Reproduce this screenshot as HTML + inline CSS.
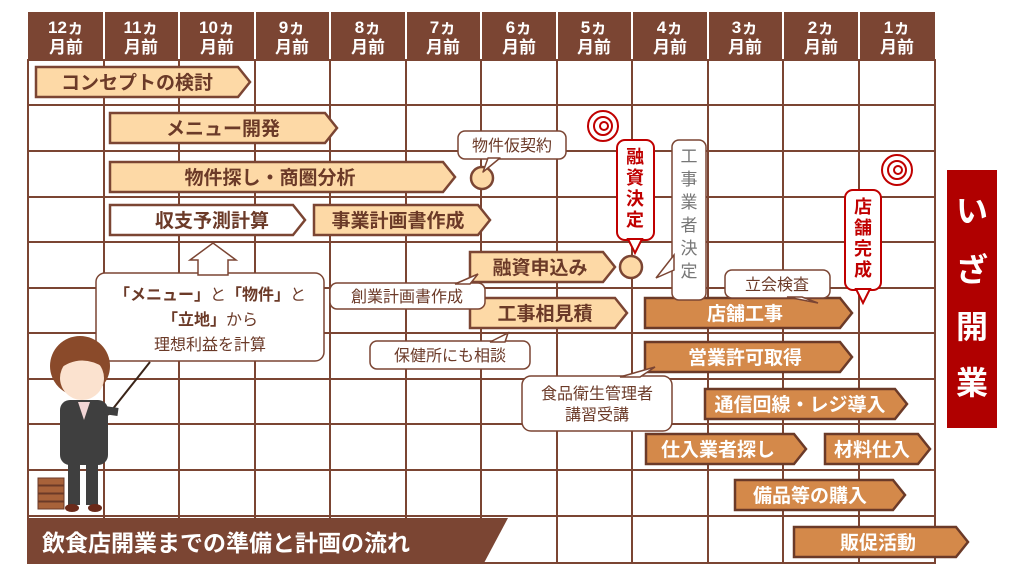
<!DOCTYPE html>
<html><head><meta charset="utf-8"><style>
html,body{margin:0;padding:0;background:#fff;}
svg{display:block}
text{font-family:"Liberation Sans","Noto Sans CJK JP",sans-serif;}
</style></head><body>
<svg width="1024" height="576" viewBox="0 0 1024 576" xmlns="http://www.w3.org/2000/svg">
<rect width="1024" height="576" fill="#fff"/>
<rect x="28" y="12" width="907" height="48" fill="#7b4533"/>
<g stroke="#fff" stroke-width="2">
<line x1="104" y1="12" x2="104" y2="60"/><line x1="179" y1="12" x2="179" y2="60"/><line x1="255" y1="12" x2="255" y2="60"/><line x1="330" y1="12" x2="330" y2="60"/><line x1="406" y1="12" x2="406" y2="60"/><line x1="481" y1="12" x2="481" y2="60"/><line x1="557" y1="12" x2="557" y2="60"/><line x1="632" y1="12" x2="632" y2="60"/><line x1="708" y1="12" x2="708" y2="60"/><line x1="783" y1="12" x2="783" y2="60"/><line x1="859" y1="12" x2="859" y2="60"/>
</g>
<g fill="#fff" font-weight="bold" font-size="17" text-anchor="middle">
<text x="66" y="33">12ヵ</text><text x="66" y="53">月前</text>
<text x="141" y="33">11ヵ</text><text x="141" y="53">月前</text>
<text x="217" y="33">10ヵ</text><text x="217" y="53">月前</text>
<text x="292" y="33">9ヵ</text><text x="292" y="53">月前</text>
<text x="368" y="33">8ヵ</text><text x="368" y="53">月前</text>
<text x="443" y="33">7ヵ</text><text x="443" y="53">月前</text>
<text x="519" y="33">6ヵ</text><text x="519" y="53">月前</text>
<text x="594" y="33">5ヵ</text><text x="594" y="53">月前</text>
<text x="670" y="33">4ヵ</text><text x="670" y="53">月前</text>
<text x="745" y="33">3ヵ</text><text x="745" y="53">月前</text>
<text x="821" y="33">2ヵ</text><text x="821" y="53">月前</text>
<text x="897" y="33">1ヵ</text><text x="897" y="53">月前</text>
</g>
<g stroke="#7b4533" stroke-width="2" fill="none">
<rect x="28" y="60" width="907" height="503"/>
<line x1="104" y1="60" x2="104" y2="563"/><line x1="179" y1="60" x2="179" y2="563"/><line x1="255" y1="60" x2="255" y2="563"/><line x1="330" y1="60" x2="330" y2="563"/><line x1="406" y1="60" x2="406" y2="563"/><line x1="481" y1="60" x2="481" y2="563"/><line x1="557" y1="60" x2="557" y2="563"/><line x1="632" y1="60" x2="632" y2="563"/><line x1="708" y1="60" x2="708" y2="563"/><line x1="783" y1="60" x2="783" y2="563"/><line x1="859" y1="60" x2="859" y2="563"/>
<line x1="28" y1="105" x2="935" y2="105"/><line x1="28" y1="151" x2="935" y2="151"/><line x1="28" y1="197" x2="935" y2="197"/><line x1="28" y1="242" x2="935" y2="242"/><line x1="28" y1="288" x2="935" y2="288"/><line x1="28" y1="333" x2="935" y2="333"/><line x1="28" y1="379" x2="935" y2="379"/><line x1="28" y1="424" x2="935" y2="424"/><line x1="28" y1="470" x2="935" y2="470"/><line x1="28" y1="516" x2="935" y2="516"/>
</g>
<polygon points="28,518 508,518 484,563 28,563" fill="#7b4533"/>
<text x="42" y="551" fill="#fff" font-size="23" font-weight="bold">飲食店開業までの準備と計画の流れ</text>
<g stroke="#7b4533" stroke-width="2.5" fill="#fdd9a6">
<polygon points="36,67 238,67 250,82 238,97 36,97"/>
<polygon points="110,113 325,113 337,128 325,143 110,143"/>
<polygon points="110,162 443,162 455,177 443,192 110,192"/>
<polygon points="110,205 293,205 305,220 293,235 110,235" fill="#fff"/>
<polygon points="314,205 478,205 490,220 478,235 314,235"/>
<polygon points="470,252 603,252 615,267 603,282 470,282"/>
<polygon points="470,298 615,298 627,313 615,328 470,328"/>
<circle cx="482" cy="178" r="11"/>
<circle cx="631" cy="267" r="11"/>
</g>
<g fill="#6b3a28" font-size="19" font-weight="bold" text-anchor="middle">
<text x="137" y="89">コンセプトの検討</text>
<text x="223" y="135">メニュー開発</text>
<text x="270" y="184">物件探し・商圏分析</text>
<text x="212" y="227">収支予測計算</text>
<text x="398" y="227">事業計画書作成</text>
<text x="540" y="274">融資申込み</text>
<text x="545" y="320">工事相見積</text>
</g>
<g stroke="#6b3a28" stroke-width="2.5" fill="#d4894a">
<polygon points="645,298 840,298 852,313 840,328 645,328"/>
<polygon points="645,342 840,342 852,357 840,372 645,372"/>
<polygon points="705,389 895,389 907,404 895,419 705,419"/>
<polygon points="646,434 794,434 806,449 794,464 646,464"/>
<polygon points="825,434 918,434 930,449 918,464 825,464"/>
<polygon points="735,480 893,480 905,495 893,510 735,510"/>
<polygon points="794,527 956,527 968,542 956,557 794,557"/>
</g>
<g fill="#fff" font-size="19" font-weight="bold" text-anchor="middle">
<text x="745" y="320">店舗工事</text>
<text x="745" y="364">営業許可取得</text>
<text x="800" y="411">通信回線・レジ導入</text>
<text x="718" y="456">仕入業者探し</text>
<text x="872" y="456">材料仕入</text>
<text x="810" y="502">備品等の購入</text>
<text x="878" y="549">販促活動</text>
</g>
<g stroke="#7b4533" stroke-width="1.5" fill="#fff">
<rect x="458" y="131" width="108" height="28" rx="7"/>
<polygon points="488,158 500,158 483,172" stroke-linejoin="round"/>
<rect x="330" y="283" width="155" height="26" rx="7"/>
<polygon points="455,284 470,284 478,274"/>
<rect x="370" y="341" width="160" height="28" rx="7"/>
<polygon points="490,342 505,342 508,333"/>
<rect x="522" y="376" width="150" height="55" rx="9"/>
<polygon points="620,377 640,377 655,367"/>
<rect x="672" y="140" width="34" height="160" rx="7"/>
<polygon points="674,255 674,270 656,278"/>
<rect x="725" y="270" width="105" height="28" rx="7"/>
<polygon points="787,297 802,297 818,303"/>
<rect x="96" y="273" width="228" height="88" rx="9"/>
<polygon points="198,275 198,260 190,260 213,243 236,260 228,260 228,275"/>
</g>
<g fill="#6b3a28" font-size="16" text-anchor="middle">
<text x="512" y="151">物件仮契約</text>
<text x="407" y="302">創業計画書作成</text>
<text x="450" y="361">保健所にも相談</text>
<text x="597" y="399">食品衛生管理者</text>
<text x="597" y="420">講習受講</text>
<text x="777" y="290">立会検査</text>
<text x="210" y="300"><tspan font-weight="bold">「メニュー」</tspan>と<tspan font-weight="bold">「物件」</tspan>と</text>
<text x="210" y="325"><tspan font-weight="bold">「立地」</tspan>から</text>
<text x="210" y="350">理想利益を計算</text>
</g>
<g fill="#777" font-size="17" text-anchor="middle">
<text x="689" y="162">工</text><text x="689" y="185">事</text><text x="689" y="208">業</text><text x="689" y="231">者</text><text x="689" y="254">決</text><text x="689" y="277">定</text>
</g>
<g stroke="#c00000" stroke-width="2" fill="#fff">
<rect x="617" y="140" width="37" height="100" rx="8"/>
<polygon points="628,239 642,239 635,253"/>
<rect x="845" y="190" width="36" height="100" rx="8"/>
<polygon points="856,289 870,289 863,303"/>
</g>
<g fill="#c00000" font-size="18" font-weight="bold" text-anchor="middle">
<text x="635" y="163">融</text><text x="635" y="184">資</text><text x="635" y="205">決</text><text x="635" y="226">定</text>
<text x="863" y="213">店</text><text x="863" y="234">舗</text><text x="863" y="255">完</text><text x="863" y="276">成</text>
</g>
<g stroke="#c00000" stroke-width="2" fill="#fff">
<circle cx="603" cy="126" r="15"/><circle cx="603" cy="126" r="9"/><circle cx="604" cy="126" r="4"/>
<circle cx="897" cy="170" r="15"/><circle cx="897" cy="170" r="9"/><circle cx="898" cy="170" r="4"/>
</g>
<rect x="947" y="170" width="50" height="258" fill="#b00000"/>
<g fill="#fff" font-size="32" font-weight="bold" text-anchor="middle">
<text x="972" y="222">い</text><text x="972" y="281">ざ</text><text x="972" y="338">開</text><text x="972" y="394">業</text>
</g>
<line x1="108" y1="415" x2="150" y2="362" stroke="#3a2418" stroke-width="2"/>
<ellipse cx="80" cy="366" rx="30" ry="30" fill="#8a4a2a"/>
<ellipse cx="82" cy="378" rx="22" ry="22" fill="#fbe2cf"/>
<path d="M55,360 Q80,335 108,360 L105,368 Q80,352 58,370 Z" fill="#8a4a2a"/>
<rect x="60" y="400" width="48" height="65" rx="10" fill="#3f3f3f"/>
<polygon points="78,402 90,402 84,420" fill="#f2d6d6"/>
<rect x="68" y="460" width="12" height="45" fill="#3f3f3f"/><rect x="86" y="460" width="12" height="45" fill="#3f3f3f"/>
<line x1="104" y1="410" x2="118" y2="412" stroke="#3f3f3f" stroke-width="8"/>
<ellipse cx="72" cy="508" rx="7" ry="4" fill="#6b2a1a"/><ellipse cx="95" cy="508" rx="7" ry="4" fill="#6b2a1a"/>
<g fill="#a8623a" stroke="#6b3a28" stroke-width="1">
<rect x="38" y="478" width="26" height="7"/><rect x="38" y="486" width="26" height="7"/><rect x="38" y="494" width="26" height="7"/><rect x="38" y="502" width="26" height="7"/>
</g>
</svg>
</body></html>
